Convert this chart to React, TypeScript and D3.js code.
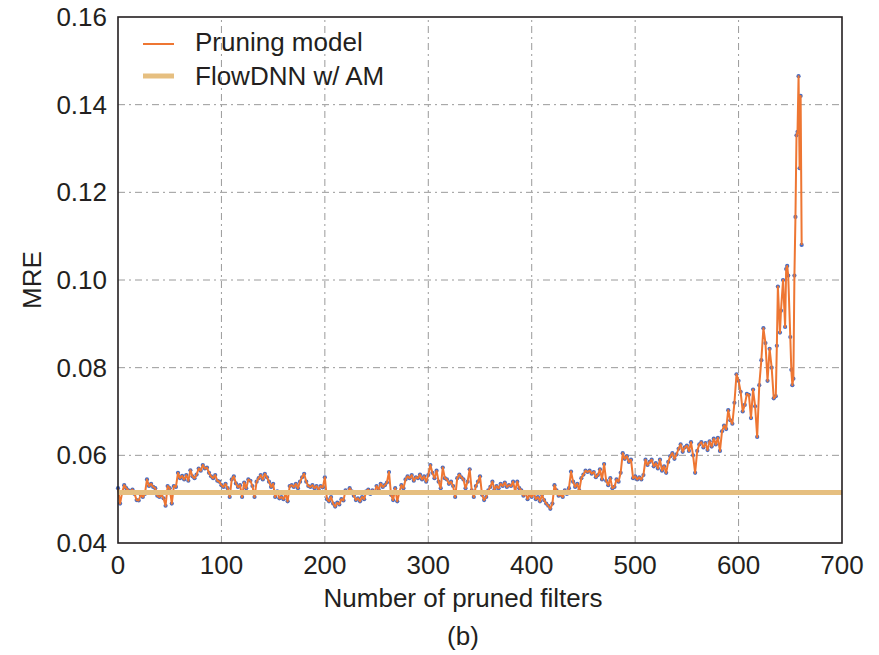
import React from 'react';
import * as d3 from 'd3';

// x ticks / y ticks of the reference
const xTicks = [0, 100, 200, 300, 400, 500, 600, 700];
const yTicks = [0.04, 0.06, 0.08, 0.1, 0.12, 0.14, 0.16];

// pruning model MRE, one reading every 2 pruned filters (0 .. 636)
const filterStep = 2;
const pruningMre = [
  0.0525, 0.0490, 0.0515, 0.0532, 0.0525, 0.0520, 0.0518, 0.0522, 0.0512, 0.0498,
  0.0497, 0.0510, 0.0505, 0.0512, 0.0545, 0.0530, 0.0535, 0.0528, 0.0525, 0.0508,
  0.0505, 0.0510, 0.0502, 0.0485, 0.0530, 0.0525, 0.0490, 0.0530, 0.0528, 0.0560,
  0.0548, 0.0553, 0.0545, 0.0555, 0.0542, 0.0566, 0.0552, 0.0548, 0.0556, 0.0570,
  0.0565, 0.0578, 0.0570, 0.0572, 0.0560, 0.0552, 0.0548, 0.0555, 0.0542, 0.0540,
  0.0532, 0.0528, 0.0535, 0.0525, 0.0505, 0.0545, 0.0552, 0.0536, 0.0528, 0.0532,
  0.0505, 0.0538, 0.0525, 0.0545, 0.0542, 0.0530, 0.0505, 0.0540, 0.0548, 0.0555,
  0.0545, 0.0558, 0.0550, 0.0540, 0.0528, 0.0535, 0.0505, 0.0518, 0.0502, 0.0505,
  0.0500, 0.0512, 0.0495, 0.0530, 0.0532, 0.0528, 0.0535, 0.0525, 0.0540, 0.0550,
  0.0558, 0.0540, 0.0530, 0.0528, 0.0532, 0.0525, 0.0530, 0.0522, 0.0530, 0.0527,
  0.0550, 0.0500, 0.0495, 0.0505, 0.0490, 0.0483, 0.0492, 0.0488, 0.0500, 0.0497,
  0.0520, 0.0515, 0.0525, 0.0518, 0.0508, 0.0498, 0.0502, 0.0495, 0.0505, 0.0500,
  0.0518, 0.0522, 0.0512, 0.0520, 0.0515, 0.0530, 0.0522, 0.0535, 0.0528, 0.0532,
  0.0538, 0.0562, 0.0510, 0.0498, 0.0525, 0.0495, 0.0515, 0.0532, 0.0525, 0.0545,
  0.0552, 0.0548, 0.0555, 0.0542, 0.0550, 0.0548, 0.0556, 0.0545, 0.0552, 0.0540,
  0.0555, 0.0578, 0.0560, 0.0548, 0.0565, 0.0540, 0.0525, 0.0572, 0.0548, 0.0545,
  0.0535, 0.0540, 0.0530, 0.0505, 0.0548, 0.0556, 0.0550, 0.0545, 0.0525, 0.0540,
  0.0568, 0.0520, 0.0505, 0.0530, 0.0540, 0.0552, 0.0510, 0.0498, 0.0505, 0.0520,
  0.0528, 0.0540, 0.0522, 0.0530, 0.0525, 0.0535, 0.0530, 0.0538, 0.0528, 0.0532,
  0.0530, 0.0540, 0.0518, 0.0540, 0.0525, 0.0520, 0.0508, 0.0515, 0.0500, 0.0510,
  0.0505, 0.0515, 0.0500, 0.0505, 0.0495, 0.0510, 0.0498, 0.0490, 0.0485, 0.0478,
  0.0490, 0.0532, 0.0520, 0.0508, 0.0510, 0.0505, 0.0520, 0.0512, 0.0525, 0.0563,
  0.0540, 0.0528, 0.0535, 0.0520, 0.0548, 0.0556, 0.0565, 0.0562, 0.0565, 0.0558,
  0.0562, 0.0550, 0.0555, 0.0568, 0.0545, 0.0580, 0.0542, 0.0532, 0.0548, 0.0525,
  0.0528, 0.0545, 0.0540, 0.0560, 0.0605, 0.0592, 0.0598, 0.0585, 0.0590, 0.0548,
  0.0552, 0.0545, 0.0550, 0.0545, 0.0555, 0.0590, 0.0578, 0.0585, 0.0590, 0.0575,
  0.0582, 0.0570, 0.0590, 0.0565, 0.0575, 0.0560, 0.0585, 0.0598, 0.0605, 0.0592,
  0.0602, 0.0615, 0.0625, 0.0608, 0.0618, 0.0622, 0.0610, 0.0630, 0.0600, 0.0560,
  0.0610, 0.0625, 0.0630, 0.0618, 0.0628, 0.0612, 0.0632, 0.0620, 0.0638, 0.0625,
  0.0640, 0.0610, 0.0655, 0.0668, 0.0660, 0.0703, 0.0680, 0.0672, 0.0720, 0.0785,
  0.0770, 0.0745, 0.0700, 0.0715, 0.0740, 0.0738, 0.0685, 0.0750, 0.0712, 0.0642,
  0.0760, 0.0817, 0.0890, 0.0856, 0.0770, 0.0843, 0.0800, 0.0730, 0.0735,
];

// the last readings are denser
const tailFilters = [637, 638, 640, 641, 643, 645, 646, 647, 648, 650, 651, 652, 653, 654, 655, 656, 657, 658, 659, 660, 661];
const tailMre = [
  0.0850, 0.0985, 0.0880, 0.0930, 0.1000, 0.0893, 0.1025, 0.1032, 0.1010, 0.0870, 0.0795,
  0.0760, 0.0775, 0.1010, 0.1144, 0.1330, 0.1338, 0.1465, 0.1255, 0.1420, 0.1080,
];

const flowDnnMre = 0.0515;

const W = 879;
const H = 655;
const FONT = '"Liberation Sans", Arial, Helvetica, sans-serif';
const ORANGE = '#ee7632';
const BLUE = '#4a6cc0';
const TAN = '#e6bf80';
const GRID = '#9a9a9a';
const INK = '#231f20';

export default function App() {
  const points = [
    ...pruningMre.map((v, i) => ({ x: i * filterStep, y: v })),
    ...tailFilters.map((x, i) => ({ x, y: tailMre[i] })),
  ];

  const xScale = d3.scaleLinear().domain([0, 700]).range([118, 842]);
  const yScale = d3.scaleLinear().domain([0.04, 0.16]).range([543, 17]);
  const [x0, x1] = xScale.range();
  const [y0, y1] = yScale.range();

  const line = d3.line<{ x: number; y: number }>()
    .x(d => xScale(d.x))
    .y(d => yScale(d.y));

  return (
    <svg
      width={W}
      height={H}
      style={{ position: 'absolute', left: 0, top: 0, background: '#fff' }}
      fontFamily={FONT}
    >
      {/* grid */}
      <g stroke={GRID} strokeWidth={1} strokeDasharray="7,4,2,4">
        {xTicks.slice(1, -1).map(t => (
          <line key={'gx' + t} x1={xScale(t)} x2={xScale(t)} y1={y0} y2={y1} />
        ))}
        {yTicks.slice(1, -1).map(t => (
          <line key={'gy' + t} x1={x0} x2={x1} y1={yScale(t)} y2={yScale(t)} />
        ))}
      </g>

      {/* pruning model */}
      <g fill={BLUE}>
        {points.map((d, i) => (
          <circle key={i} cx={xScale(d.x)} cy={yScale(d.y)} r={2.1} />
        ))}
      </g>
      <path d={line(points) || ''} fill="none" stroke={ORANGE} strokeWidth={2} strokeLinejoin="round" />

      {/* FlowDNN w/ AM */}
      <line x1={x0} x2={x1} y1={yScale(flowDnnMre)} y2={yScale(flowDnnMre)} stroke={TAN} strokeWidth={5} />

      {/* frame */}
      <rect x={x0} y={y1} width={x1 - x0} height={y0 - y1} fill="none" stroke={INK} strokeWidth={1.6} />

      {/* tick labels */}
      <g fontSize={26} fill={INK}>
        {xTicks.map(t => (
          <text key={'tx' + t} x={xScale(t)} y={574} textAnchor="middle">{t}</text>
        ))}
        {yTicks.map(t => (
          <text key={'ty' + t} x={107} y={yScale(t) + 9} textAnchor="end">{d3.format('.2f')(t)}</text>
        ))}
      </g>

      {/* axis titles */}
      <text x={463} y={607} fontSize={26} textAnchor="middle" fill={INK}>Number of pruned filters</text>
      <text transform={`translate(41,${(y0 + y1) / 2}) rotate(-90)`} fontSize={26} textAnchor="middle" fill={INK}>MRE</text>
      <text x={463} y={645} fontSize={26} textAnchor="middle" fill={INK}>(b)</text>

      {/* legend */}
      <line x1={143} x2={174} y1={44} y2={44} stroke={ORANGE} strokeWidth={2} />
      <text x={195} y={51} fontSize={26} fill={INK}>Pruning model</text>
      <line x1={143} x2={174} y1={76} y2={76} stroke={TAN} strokeWidth={5} />
      <text x={195} y={85} fontSize={26} fill={INK}>FlowDNN w/ AM</text>
    </svg>
  );
}
